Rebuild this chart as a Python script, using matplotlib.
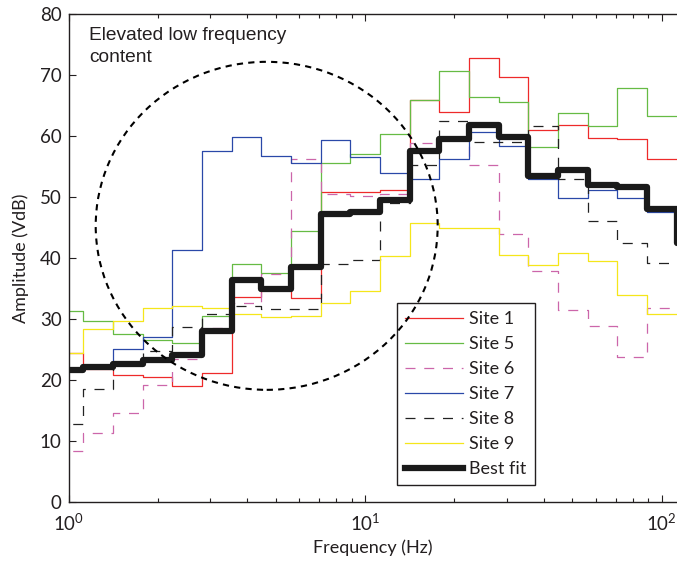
import numpy as np
import matplotlib
matplotlib.use("Agg")
import matplotlib.pyplot as plt
from matplotlib.patches import Ellipse
from matplotlib.ticker import LogLocator, FixedLocator, NullFormatter

plt.rcParams['font.family'] = ['Lato', 'DejaVu Sans']
plt.rcParams['mathtext.default'] = 'regular'

# 1/3-octave band index (band n has centre 10**(n/10) Hz)
band_centres = [1, 1.25, 1.6, 2, 2.5, 3.15, 4, 5, 6.3, 8, 10, 12.5, 16, 20,
                25, 31.5, 40, 50, 63, 80, 100, 125]

site1 = [24.4, 21.7, 20.8, 20.4, 19.0, 21.1, 33.6, 35.0, 33.5, 50.9, 50.9,
         51.2, 66.0, 64.0, 72.8, 69.7, 61.0, 61.9, 59.7, 59.5, 56.2]
site5 = [31.3, 29.6, 27.6, 26.6, 26.1, 30.5, 39.0, 37.5, 44.4, 55.6, 57.0,
         60.3, 66.0, 70.7, 66.5, 65.6, 58.3, 63.8, 61.6, 67.9, 63.3]
site6 = [8.3, 11.3, 14.6, 19.2, 23.5, 28.5, 32.6, 37.4, 56.3, 50.5, 50.1,
         50.5, 58.9, 59.3, 55.2, 43.9, 37.9, 31.5, 28.9, 23.8, 31.8]
site7 = [21.5, 22.0, 25.1, 27.0, 41.3, 57.5, 59.8, 56.7, 55.6, 59.4, 56.5,
         53.9, 52.9, 56.2, 60.6, 58.4, 53.0, 49.8, 51.2, 49.9, 47.5]
site8 = [12.7, 18.5, 23.0, 24.7, 28.6, 30.8, 32.2, 31.6, 31.6, 39.0, 39.7,
         49.0, 55.2, 62.5, 59.1, 59.1, 61.6, 52.9, 46.0, 42.5, 39.2]
site9 = [24.4, 28.4, 29.6, 31.8, 32.1, 31.8, 30.8, 30.3, 30.5, 32.6, 34.6,
         40.3, 45.7, 44.9, 45.0, 40.5, 38.9, 40.9, 39.5, 33.9, 30.8]
best_fit = [21.6, 22.1, 22.6, 23.3, 24.1, 28.1, 36.4, 34.9, 38.6, 47.2, 47.5,
            49.5, 57.5, 59.6, 61.9, 59.9, 53.5, 54.4, 51.9, 51.6, 48.1, 42.4]

labels = ['Site 1', 'Site 5', 'Site 6', 'Site 7', 'Site 8', 'Site 9', 'Best fit']
y_ticks = [0, 10, 20, 30, 40, 50, 60, 70, 80]


def band_edges(n):
    idx = np.arange(n + 1) - 0.5
    return 10 ** (idx / 10.0)


def stair(ax, vals, **kw):
    v = np.asarray(vals, dtype=float)
    e = band_edges(len(v))
    ax.step(e, np.append(v, v[-1]), where='post', **kw)


TXT = '#231f20'
fig = plt.figure(figsize=(6.77, 5.61), dpi=100)
ax = fig.add_axes([68.5 / 677, (561 - 501.7) / 561, (677 - 68.5) / 677, 487.4 / 561])

lw = 0.9
stair(ax, site1, color='#ee2a2a', lw=lw, label=labels[0])
stair(ax, site5, color='#66bb44', lw=lw, label=labels[1])
stair(ax, site6, color='#cc66aa', lw=lw, ls=(0, (8, 7)), label=labels[2])
stair(ax, site7, color='#2a48a8', lw=lw, label=labels[3])
stair(ax, site8, color='#222222', lw=lw, ls=(0, (8, 7)), label=labels[4])
stair(ax, site9, color='#f5e61a', lw=lw, label=labels[5])
stair(ax, best_fit, color='#1a1a1a', lw=4.5, label=labels[6], zorder=5)

ax.set_xscale('log')
ax.set_xlim(1, 112.6)
ax.set_ylim(0, 80)
ax.set_yticks(y_ticks)
ax.xaxis.set_major_locator(FixedLocator([1, 10, 100]))
ax.set_xticklabels([r'$10^{0}$', r'$10^{1}$', r'$10^{2}$'])
ax.xaxis.set_minor_locator(LogLocator(base=10, subs=np.arange(2, 10)))
ax.xaxis.set_minor_formatter(NullFormatter())

ax.tick_params(axis='both', which='both', direction='in', top=True, right=False,
               labelsize=13.5, colors=TXT)
ax.tick_params(axis='x', which='major', length=5, width=0.8, pad=8)
ax.tick_params(axis='x', which='minor', length=3, width=0.8)
ax.tick_params(axis='y', which='major', length=5, width=0.8, pad=5)
ax.spines['right'].set_visible(False)
for s in ['left', 'top', 'bottom']:
    ax.spines[s].set_linewidth(1.0)
    ax.spines[s].set_color(TXT)

ax.set_xlabel('Frequency (Hz)', fontsize=13, color=TXT, labelpad=4)
ax.set_ylabel('Amplitude (VdB)', fontsize=13, color=TXT, labelpad=8)

ell = Ellipse((0.3257, 0.566), 0.562, 0.673, transform=ax.transAxes,
              fill=False, edgecolor='black', lw=1.5, ls=(0, (3, 2.5)), zorder=6)
ax.add_patch(ell)

fig.text(89 / 677, 1 - 27 / 561, 'Elevated low frequency\ncontent',
         family=['Liberation Sans', 'DejaVu Sans'], fontsize=13.8,
         va='top', ha='left', color=TXT, linespacing=1.35)

leg = ax.legend(loc='upper left', bbox_to_anchor=(0.540, 0.4077),
                borderaxespad=0, fontsize=13, handlelength=3.2, labelspacing=0.5,
                handletextpad=0.35, borderpad=0.45, fancybox=False, framealpha=1)
leg.get_frame().set_edgecolor(TXT)
leg.get_frame().set_linewidth(1.0)
for t in leg.get_texts():
    t.set_color(TXT)

fig.savefig('out.png', dpi=100)
